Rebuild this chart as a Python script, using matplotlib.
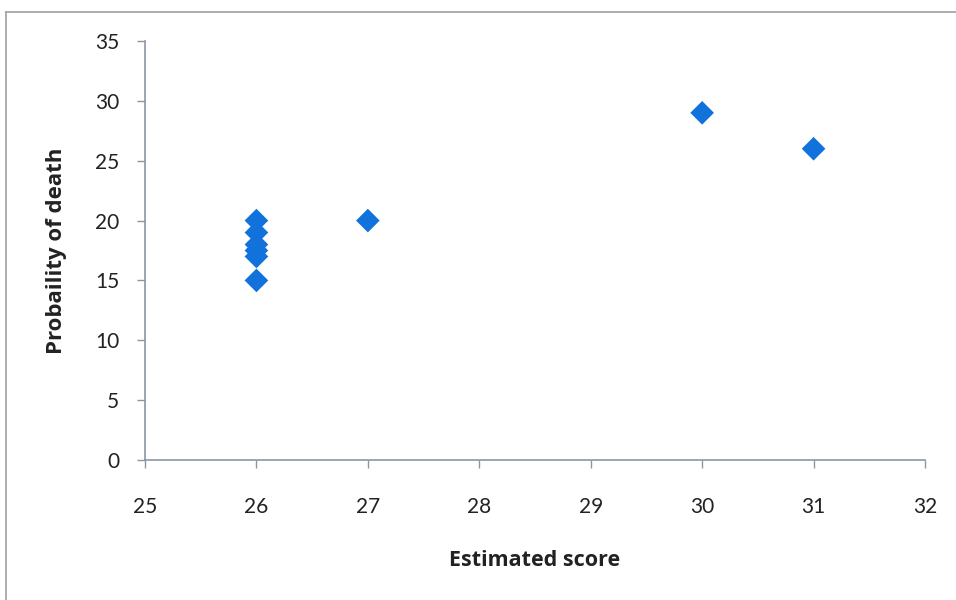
import matplotlib
matplotlib.use("Agg")
import matplotlib.pyplot as plt
from matplotlib.lines import Line2D

plt.rcParams['font.family'] = ['Lato', 'DejaVu Sans']

estimated_score = [26, 26, 26, 26, 26, 26, 27, 30, 31]
prob_death = [20, 19, 18, 17.5, 17, 15, 20, 29, 26]
x_ticks = [25, 26, 27, 28, 29, 30, 31, 32]
y_ticks = [0, 5, 10, 15, 20, 25, 30, 35]

fig = plt.figure(figsize=(9.56, 6.0), dpi=100)
ax = fig.add_axes([145/956, 140/600, 780/956, 419/600])

ax.scatter(estimated_score, prob_death, marker='D', s=145, color='#1272dc',
           edgecolors='none', zorder=3, clip_on=False)

ax.set_xlim(25, 32)
ax.set_ylim(0, 35)
ax.set_xticks(x_ticks)
ax.set_yticks(y_ticks)
ax.tick_params(axis='both', direction='out', length=5.5, width=1, color='#8a96a8',
               labelsize=15, labelcolor='#222222')
ax.tick_params(axis='x', pad=21)
ax.tick_params(axis='y', pad=13)
for s in ['top', 'right']:
    ax.spines[s].set_visible(False)
for s in ['left', 'bottom']:
    ax.spines[s].set_color('#8a96a8')
    ax.spines[s].set_linewidth(1.2)

ax.set_xlabel('Estimated score', fontsize=15.5, fontweight='bold', labelpad=24,
              color='#222222', family=['Open Sans', 'DejaVu Sans'])
ax.set_ylabel('Probaility of death', fontsize=16, fontweight='bold', labelpad=20,
              color='#222222', family=['Open Sans', 'DejaVu Sans'])

# outer chart border
fig.add_artist(Line2D([6/956, 1.0], [1 - 12/600, 1 - 12/600], transform=fig.transFigure,
                      color='#a0a0a0', lw=1.2))
fig.add_artist(Line2D([6/956, 6/956], [0, 1 - 12/600], transform=fig.transFigure,
                      color='#a0a0a0', lw=1.2))

fig.savefig('out.png', dpi=100)
